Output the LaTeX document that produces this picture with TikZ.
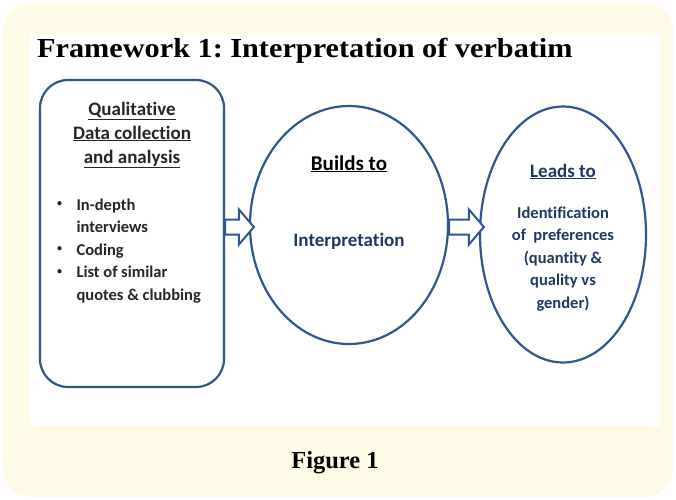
\documentclass[tikz,border=0pt]{standalone}
\usepackage{graphicx}
\usepackage{fontspec}
\setmainfont{Carlito}[Ligatures=NoCommon]
\newfontfamily\serifbold{Liberation Serif}
\usetikzlibrary{positioning,shapes.geometric,calc}
\definecolor{cream}{RGB}{255,250,230}
\definecolor{frameblue}{RGB}{48,86,142}
\definecolor{navytext}{RGB}{31,56,100}

% hollow block arrow from #1.east to #2.west, level of #3, tip overshoot #4
\newcommand\hollowarrow[4]{%
    \draw[hollow] let \p1=(#1.east), \p2=(#2.west), \p3=($(#3.center)+(0,2)$) in
        (\x1,\y3+7.5pt) -- (\x2+#4-15pt,\y3+7.5pt) -- (\x2+#4-15pt,\y3+17.5pt)
        -- (\x2+#4,\y3) -- (\x2+#4-15pt,\y3-17.5pt) -- (\x2+#4-15pt,\y3-7.5pt)
        -- (\x1,\y3-7.5pt) -- cycle;
}

\begin{document}
\frenchspacing
\begin{tikzpicture}[x=1pt,y=-1pt,
    stage/.style={draw=frameblue,line width=2.2pt},
    hollow/.style={draw=frameblue,line width=2pt,fill=white,line join=miter},
    head/.style={anchor=base,font=\bfseries\fontsize{19}{22}\selectfont,text=black!85},
    item/.style={anchor=base west,font=\bfseries\fontsize{16.5}{20}\selectfont,text=black!85},
    blue/.style={anchor=base,font=\bfseries\fontsize{16.5}{20}\selectfont,text=navytext}]
    \useasboundingbox (0,0) rectangle (676,499);
    \fill[cream,rounded corners=28pt] (3,3) rectangle (673,497);
    \fill[white] (30,34) rectangle (660,426);

    \node[anchor=base west,inner sep=0,font=\serifbold\bfseries\fontsize{27.5}{30}\selectfont] (title) at (37,57) {\scalebox{1.1}[1]{Framework 1: Interpretation of verbatim}};

    % the three stages
    \node[stage,rounded corners=28pt,minimum width=184pt,minimum height=307pt] (qual) at (132,233.5) {};
    \node[stage,ellipse,minimum width=198pt,minimum height=238pt] (build) at (349,225) {};
    \node[stage,ellipse,minimum width=166pt,minimum height=256pt] (lead) at (563,234.5) {};

    \hollowarrow{qual}{build}{build}{5pt}
    \hollowarrow{build}{lead}{build}{5pt}

    % box text
    \foreach \txt [count=\i] in {Qualitative,Data collection,and analysis} {
        \node[head] (qualhead\i) at (132,91+24*\i) {\underline{\txt}};
    }
    \foreach \txt/\dot [count=\i] in {In-depth/1,interviews/0,Coding/1,List of similar/1,quotes \& clubbing/0} {
        \node[item] (qualitem\i) at (73,187.5+22.5*\i) {\txt};
        \ifnum\dot=1
            \node[item,inner sep=0,font=\bfseries\fontsize{10}{12}\selectfont] (qualdot\i) at (57,184+22.5*\i) {\textbullet};
        \fi
    }

    % circle texts
    \node[head,text=black,font=\bfseries\fontsize{21}{24}\selectfont] (buildhead) at (349,170) {\underline{Builds to}};
    \node[blue,font=\bfseries\fontsize{19}{22}\selectfont] (buildtext) at (349,246) {Interpretation};
    \node[blue,font=\bfseries\fontsize{19}{22}\selectfont] (leadhead) at (563,177) {\underline{Leads to}};
    \foreach \txt [count=\i] in {Identification,of\ \ preferences,{(quantity \&},quality vs,gender)} {
        \node[blue] (leadtext\i) at (563,195.5+22.5*\i) {\txt};
    }

    \node[anchor=base,font=\serifbold\bfseries\fontsize{24.5}{28}\selectfont] (caption) at (335,468) {Figure 1};
\end{tikzpicture}
\end{document}
